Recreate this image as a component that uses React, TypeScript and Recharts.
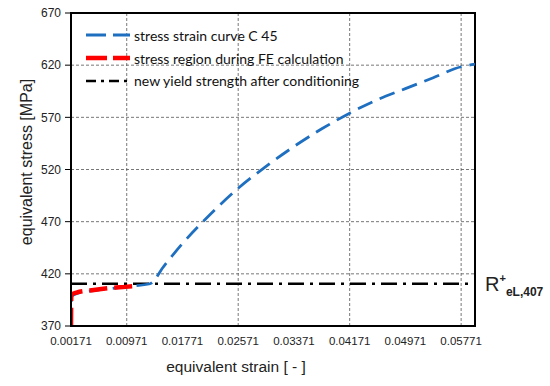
import { LineChart, Line, XAxis, YAxis, CartesianGrid, ReferenceArea, Legend, Label } from "recharts";

const strainTicks = [0.00171, 0.00971, 0.01771, 0.02571, 0.03371, 0.04171, 0.04971, 0.05771];
const stressTicks = [370, 420, 470, 520, 570, 620, 670];
const strainDomain = [0.00171, 0.0597];

// stress strain curve C 45
const curveStrain = [0.00171, 0.00175, 0.0025, 0.005, 0.0075, 0.01, 0.01306, 0.015, 0.01771, 0.02171, 0.02571, 0.02971, 0.03371, 0.03771, 0.04171, 0.04571, 0.04971, 0.05371, 0.05771, 0.0597];
const curveStress = [370, 398, 401, 404, 406, 408, 410.5, 427, 449, 477, 502, 523, 542, 559, 574, 587, 597.5, 608, 618.5, 621];

// stress region during FE calculation
const feStrain = [0.00171, 0.00175, 0.0025, 0.005, 0.0075, 0.0095, 0.01115];
const feStress = [370, 400, 402, 404.5, 406.5, 407.5, 408.5];

// new yield strength after conditioning
const yieldStrain = [0.00171, 0.0597];
const yieldStress = [410.5, 410.5];

const toPoints = (xs: number[], ys: number[]) => xs.map((x, i) => ({ strain: x, stress: ys[i] }));

const curveData = toPoints(curveStrain, curveStress);
const feData = toPoints(feStrain, feStress);
const yieldData = toPoints(yieldStrain, yieldStress);

const legendItems = [
  { label: "stress strain curve C 45", color: "#1f6fc0", width: 2.8, dash: "20 7" },
  { label: "stress region during FE calculation", color: "#ff0000", width: 4.5, dash: "21 6" },
  { label: "new yield strength after conditioning", color: "#000000", width: 2.5, dash: "10 5 3 5" },
];

const axisFont = "'Liberation Sans', Arial, sans-serif";

function LegendBox() {
  return (
    <div style={{ fontFamily: "Lato, 'Open Sans', sans-serif", fontSize: 14, color: "#111" }}>
      {legendItems.map((it) => (
        <div key={it.label} style={{ display: "flex", alignItems: "center", height: 22.7 }}>
          <svg width={46} height={10} style={{ marginRight: 2 }}>
            <line x1={0} y1={5} x2={44} y2={5} stroke={it.color} strokeWidth={it.width} strokeDasharray={it.dash} />
          </svg>
          <span>{it.label}</span>
        </div>
      ))}
    </div>
  );
}

const yieldLabel = (props: any) => {
  const { x, y, index } = props;
  if (index !== yieldData.length - 1) return null;
  return (
    <text x={x + 10} y={y + 7} fontFamily={axisFont} fill="#222">
      <tspan fontSize={20}>R</tspan>
      <tspan fontSize={11} fontWeight="bold" dy={-9}>+</tspan>
      <tspan fontSize={12} fontWeight="bold" dy={14}>eL,407</tspan>
    </text>
  );
};

export default function App() {
  return (
    <div style={{ position: "absolute", left: 0, top: 0, background: "#fff" }}>
      <LineChart width={550} height={386} margin={{ top: 13, right: 75, left: 0, bottom: 0 }}>
        <CartesianGrid stroke="#555" strokeDasharray="3 2" strokeWidth={0.8} />
        <XAxis
          type="number"
          dataKey="strain"
          domain={strainDomain}
          ticks={strainTicks}
          allowDataOverflow
          height={60}
          tickFormatter={(v: number) => v.toFixed(5)}
          tick={{ fontSize: 11.5, fill: "#222", fontFamily: axisFont }}
          tickLine={false}
          tickSize={0}
          tickMargin={11}
          axisLine={{ stroke: "#000", strokeWidth: 2 }}
        >
          <Label
            content={() => (
              <text x={236} y={372} textAnchor="middle" fontSize={15.5} fontFamily={axisFont} fill="#222">
                equivalent strain [ - ]
              </text>
            )}
          />
        </XAxis>
        <YAxis
          type="number"
          dataKey="stress"
          domain={[370, 670]}
          ticks={stressTicks}
          allowDataOverflow
          width={71}
          tick={{ fontSize: 12, fill: "#222", fontFamily: axisFont }}
          tickSize={6}
          tickMargin={4}
          tickLine={{ stroke: "#000" }}
          axisLine={{ stroke: "#000", strokeWidth: 2 }}
        >
          <Label
            content={() => (
              <text
                x={26}
                y={162}
                transform="rotate(-90, 26, 162)"
                textAnchor="middle"
                dominantBaseline="central"
                fontSize={16}
                fontFamily={axisFont}
                fill="#222"
              >
                equivalent stress [MPa]
              </text>
            )}
          />
        </YAxis>
        <ReferenceArea
          x1={strainDomain[0]}
          x2={strainDomain[1]}
          y1={370}
          y2={670}
          fill="none"
          fillOpacity={0}
          stroke="#000"
          strokeWidth={2}
        />
        <Line
          data={yieldData}
          dataKey="stress"
          stroke="#000"
          strokeWidth={2.6}
          strokeDasharray="16 6 3 6"
          dot={false}
          label={yieldLabel}
          isAnimationActive={false}
        />
        <Line
          data={curveData}
          dataKey="stress"
          type="monotone"
          stroke="#1f6fc0"
          strokeWidth={2.8}
          strokeDasharray="16 8"
          dot={false}
          isAnimationActive={false}
        />
        <Line
          data={feData}
          dataKey="stress"
          type="monotone"
          stroke="#ff0000"
          strokeWidth={4.5}
          strokeDasharray="18 7"
          dot={false}
          isAnimationActive={false}
        />
        <Legend
          layout="vertical"
          align="center"
          verticalAlign="middle"
          content={() => <LegendBox />}
          wrapperStyle={{ position: "absolute", left: 86, top: 24, width: "auto" }}
        />
      </LineChart>
    </div>
  );
}
